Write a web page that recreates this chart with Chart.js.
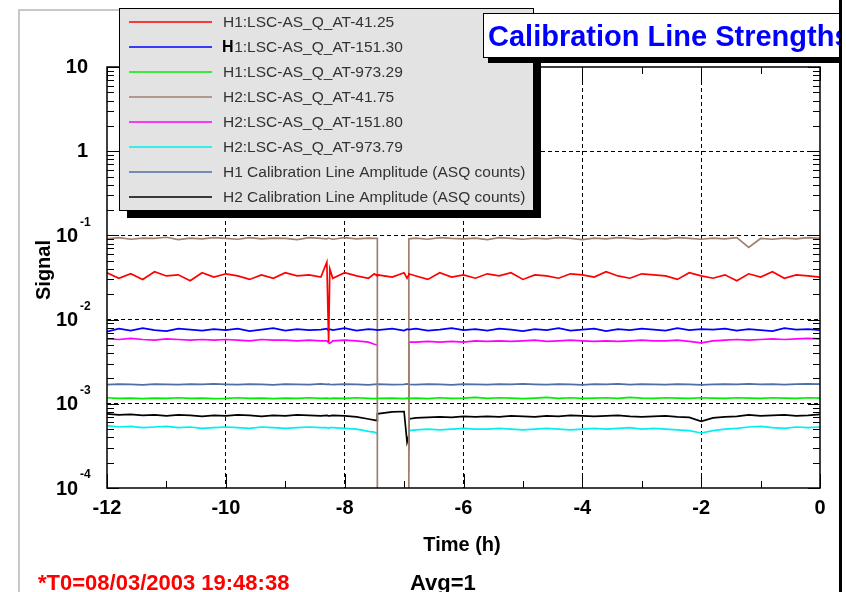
<!DOCTYPE html>
<html>
<head>
<meta charset="utf-8">
<script src="https://cdn.jsdelivr.net/npm/chart.js@4/dist/chart.umd.min.js"></script>
<style>
  html, body { margin: 0; padding: 0; background: #fff; }
  canvas { display: block; }
</style>
</head>
<body>
<canvas id="calChart" width="846" height="592"></canvas>
<script>
// time axis in hours before T0 (duplicated times give the vertical drops)
const times = [
  -12, -11.8, -11.6, -11.4, -11.2, -11, -10.8, -10.6, -10.4, -10.2,
  -10, -9.8, -9.6, -9.4, -9.2, -9, -8.8, -8.6, -8.4, -8.3,
  -8.27, -8.25, -8.2, -8, -7.8, -7.6, -7.5, -7.45, -7.45, -7.2,
  -7, -6.95, -6.92, -6.92, -6.8, -6.6, -6.4, -6.2, -6, -5.8,
  -5.6, -5.4, -5.2, -5, -4.8, -4.6, -4.4, -4.2, -4, -3.8,
  -3.6, -3.4, -3.2, -3, -2.8, -2.6, -2.4, -2.2, -2, -1.8,
  -1.6, -1.4, -1.2, -1, -0.8, -0.6, -0.4, -0.2, 0
];

const h1_41 = [
  0.036, 0.031, 0.035, 0.030, 0.037, 0.033, 0.034, 0.029, 0.036, 0.032,
  0.035, 0.033, 0.030, 0.034, 0.031, 0.036, 0.033, 0.034, 0.032, 0.048,
  0.0054, 0.040, 0.031, 0.036, 0.033, 0.031, 0.035, 0.033, 0.034, 0.032,
  0.036, 0.031, 0.034, 0.035, 0.033, 0.030, 0.036, 0.032, 0.034, 0.031,
  0.035, 0.033, 0.036, 0.030, 0.034, 0.033, 0.031, 0.035, 0.034, 0.032,
  0.037, 0.033, 0.031, 0.035, 0.034, 0.033, 0.030, 0.036, 0.033, 0.031,
  0.034, 0.029, 0.035, 0.032, 0.037, 0.031, 0.034, 0.033, 0.032
];

const h1_151 = [
  0.0072, 0.0078, 0.0074, 0.0079, 0.0075, 0.0073, 0.0078, 0.0076, 0.0074, 0.0077,
  0.0075, 0.0078, 0.0073, 0.0076, 0.0079, 0.0074, 0.0077, 0.0075, 0.0076, 0.0078,
  0.0074, 0.0077, 0.0075, 0.0079, 0.0074, 0.0077, 0.0076, 0.0075, 0.0075, 0.0078,
  0.0074, 0.0077, 0.0076, 0.0076, 0.0078, 0.0074, 0.0076, 0.0079, 0.0075, 0.0077,
  0.0074, 0.0078, 0.0076, 0.0073, 0.0077, 0.0075, 0.0079, 0.0074, 0.0076, 0.0078,
  0.0073, 0.0077, 0.0075, 0.0078, 0.0076, 0.0074, 0.0079, 0.0075, 0.0077, 0.0076,
  0.0078, 0.0074, 0.0077, 0.0075, 0.0073, 0.0079, 0.0076, 0.0077, 0.0075
];

const h1_973 = [
  0.00118, 0.00116, 0.00117, 0.00115, 0.00117, 0.00116, 0.00118, 0.00116, 0.00117, 0.00115,
  0.00116, 0.00118, 0.00116, 0.00117, 0.00115, 0.00117, 0.00116, 0.00118, 0.00116, 0.00117,
  0.00116, 0.00115, 0.00117, 0.00116, 0.00118, 0.00116, 0.00115, 0.00116, 0.00116, 0.00117,
  0.00115, 0.00117, 0.00116, 0.00116, 0.00117, 0.00115, 0.00118, 0.00116, 0.00117, 0.00119,
  0.00116, 0.00118, 0.00117, 0.00115, 0.00117, 0.00119, 0.00116, 0.00118, 0.00116, 0.00117,
  0.00118, 0.00116, 0.00119, 0.00117, 0.00116, 0.00118, 0.00117, 0.00116, 0.00118, 0.00117,
  0.00116, 0.00118, 0.00117, 0.00116, 0.00118, 0.00117, 0.00116, 0.00118, 0.00117
];

// H2 lines drop out between -7.45 h and -6.92 h
const h2_41 = [
  0.091, 0.094, 0.090, 0.093, 0.092, 0.095, 0.089, 0.093, 0.091, 0.094,
  0.092, 0.090, 0.094, 0.091, 0.093, 0.092, 0.089, 0.094, 0.092, 0.091,
  0.093, 0.092, 0.090, 0.094, 0.091, 0.093, 0.092, 0.092, 1e-6, 1e-6,
  1e-6, 1e-6, 1e-6, 0.091, 0.093, 0.090, 0.094, 0.092, 0.091, 0.093,
  0.089, 0.094, 0.092, 0.090, 0.093, 0.091, 0.094, 0.092, 0.089, 0.093,
  0.091, 0.094, 0.092, 0.090, 0.093, 0.091, 0.094, 0.092, 0.090, 0.093,
  0.091, 0.094, 0.072, 0.092, 0.090, 0.093, 0.091, 0.094, 0.092
];

const h2_151 = [
  0.0059, 0.0058, 0.0060, 0.0058, 0.0057, 0.0059, 0.0058, 0.0057, 0.0058, 0.0057,
  0.0058, 0.0057, 0.0056, 0.0058, 0.0057, 0.0057, 0.0056, 0.0057, 0.0056, 0.0056,
  0.0053, 0.0052, 0.0056, 0.0057, 0.0056, 0.0054, 0.0051, 0.0050, null, null,
  null, null, 0.00028, 0.0054, 0.0054, 0.0055, 0.0054, 0.0055, 0.0054, 0.0056,
  0.0055, 0.0056, 0.0055, 0.0056, 0.0057, 0.0055, 0.0056, 0.0057, 0.0056, 0.0055,
  0.0056, 0.0055, 0.0056, 0.0057, 0.0056, 0.0056, 0.0057, 0.0055, 0.0053, 0.0056,
  0.0057, 0.0058, 0.0057, 0.0058, 0.0059, 0.0058, 0.0059, 0.0060, 0.0059
];

const h2_973 = [
  0.00055, 0.00053, 0.00054, 0.00052, 0.00053, 0.00054, 0.00052, 0.00053, 0.00051, 0.00052,
  0.00053, 0.00052, 0.00051, 0.00053, 0.00052, 0.00051, 0.00052, 0.00053, 0.00052, 0.00052,
  0.00051, 0.00052, 0.00052, 0.00051, 0.00050, 0.00047, 0.00046, 0.00044, null, null,
  null, null, 0.000155, 0.00048, 0.00049, 0.00050, 0.00049, 0.00050, 0.00051, 0.00050,
  0.00050, 0.00051, 0.00050, 0.00049, 0.00050, 0.00051, 0.00050, 0.00049, 0.00050, 0.00051,
  0.00050, 0.00051, 0.00052, 0.00050, 0.00051, 0.00050, 0.00049, 0.00048, 0.00045, 0.00048,
  0.00050, 0.00051, 0.00053, 0.00054, 0.00052, 0.00051, 0.00053, 0.00052, 0.00053
];

const h1_amp = [
  0.00169, 0.00171, 0.00170, 0.00168, 0.00171, 0.00170, 0.00169, 0.00171, 0.00170, 0.00172,
  0.00170, 0.00169, 0.00171, 0.00170, 0.00168, 0.00171, 0.00170, 0.00169, 0.00172, 0.00170,
  0.00171, 0.00170, 0.00169, 0.00171, 0.00170, 0.00168, 0.00170, 0.00171, 0.00171, 0.00169,
  0.00170, 0.00172, 0.00170, 0.00170, 0.00169, 0.00171, 0.00170, 0.00168, 0.00171, 0.00170,
  0.00169, 0.00171, 0.00170, 0.00172, 0.00170, 0.00169, 0.00171, 0.00170, 0.00168, 0.00171,
  0.00170, 0.00172, 0.00169, 0.00171, 0.00170, 0.00169, 0.00171, 0.00170, 0.00168, 0.00170,
  0.00171, 0.00170, 0.00172, 0.00170, 0.00171, 0.00169, 0.00171, 0.00172, 0.00171
];

const h2_amp = [
  0.00076, 0.00074, 0.00075, 0.00073, 0.00074, 0.00072, 0.00074, 0.00073, 0.00071, 0.00073,
  0.00072, 0.00074, 0.00073, 0.00071, 0.00073, 0.00072, 0.00074, 0.00073, 0.00072, 0.00073,
  0.00072, 0.00072, 0.00073, 0.00072, 0.00070, 0.00066, 0.00064, 0.00063, 0.00076, 0.00080,
  0.00081, 0.00035, 0.00042, 0.00066, 0.00068, 0.00069, 0.00070, 0.00069, 0.00071, 0.00070,
  0.00071, 0.00070, 0.00072, 0.00071, 0.00070, 0.00072, 0.00071, 0.00073, 0.00072, 0.00071,
  0.00072, 0.00073, 0.00071, 0.00070, 0.00071, 0.00072, 0.00070, 0.00069, 0.00062, 0.00068,
  0.00070, 0.00071, 0.00074, 0.00072, 0.00073, 0.00074, 0.00072, 0.00073, 0.00075
];

const seriesLabels = [
  'H1:LSC-AS_Q_AT-41.25', 'H1:LSC-AS_Q_AT-151.30', 'H1:LSC-AS_Q_AT-973.29',
  'H2:LSC-AS_Q_AT-41.75', 'H2:LSC-AS_Q_AT-151.80', 'H2:LSC-AS_Q_AT-973.79',
  'H1 Calibration Line Amplitude (ASQ counts)', 'H2 Calibration Line Amplitude (ASQ counts)'
];
const seriesValues = [h1_41, h1_151, h1_973, h2_41, h2_151, h2_973, h1_amp, h2_amp];
const seriesColors = ['#ff0000', '#0000ff', '#00ee00', '#a0806e', '#ff00ff', '#00f0f0', '#4f6fa3', '#000000'];

const xTicks = [-12, -10, -8, -6, -4, -2, 0];
const yDecades = [10, 1, 0.1, 0.01, 0.001, 0.0001];

const FONT = '"Liberation Sans", Arial, sans-serif';

function isDecade(v) {
  const l = Math.log10(v);
  return Math.abs(l - Math.round(l)) < 1e-6;
}

const datasets = seriesValues.map((vals, i) => ({
  label: seriesLabels[i],
  data: times.map((t, k) => ({ x: t, y: vals[k] })),
  borderColor: seriesColors[i],
  backgroundColor: seriesColors[i],
  borderWidth: 1.7,
  pointRadius: 0,
  tension: 0,
  spanGaps: false
}));

// frame, inward ticks, texts, legend box, title box
const decor = {
  id: 'decor',
  afterDatasetsDraw(chart) {
    const { ctx, chartArea: a, scales: { x, y } } = chart;
    ctx.save();
    ctx.strokeStyle = '#000';
    ctx.lineWidth = 1.5;
    ctx.strokeRect(a.left, a.top, a.right - a.left, a.bottom - a.top);
    ctx.lineWidth = 1;
    ctx.beginPath();
    for (let n = -4; n <= 1; n++) {
      for (let m = 1; m <= 9; m++) {
        const v = m * Math.pow(10, n);
        if (v > 10.0001) break;
        const py = Math.round(y.getPixelForValue(v)) + 0.5;
        const len = m === 1 ? 12 : 7;
        ctx.moveTo(a.left, py); ctx.lineTo(a.left + len, py);
        ctx.moveTo(a.right, py); ctx.lineTo(a.right - len, py);
      }
    }
    for (let h = -12; h <= 0; h++) {
      const px = Math.round(x.getPixelForValue(h)) + 0.5;
      const len = h % 2 === 0 ? 14 : 7;
      ctx.moveTo(px, a.bottom); ctx.lineTo(px, a.bottom - len);
      ctx.moveTo(px, a.top); ctx.lineTo(px, a.top + len);
    }
    ctx.stroke();
    ctx.restore();
  },
  afterDraw(chart) {
    const { ctx, scales: { y } } = chart;
    ctx.save();

    // page edges
    ctx.fillStyle = '#c8c8c8';
    ctx.fillRect(18, 9, 2, 583);
    ctx.fillRect(18, 9, 102, 2);

    // y decade labels
    ctx.fillStyle = '#000';
    ctx.textBaseline = 'middle';
    yDecades.forEach(v => {
      const py = y.getPixelForValue(v);
      const e = Math.round(Math.log10(v));
      if (e >= 0) {
        ctx.font = 'bold 20px ' + FONT;
        ctx.textAlign = 'right';
        ctx.fillText(String(v), 88, py);
      } else {
        ctx.font = 'bold 20px ' + FONT;
        ctx.textAlign = 'left';
        ctx.fillText('10', 56, py + 1);
        ctx.font = 'bold 12px ' + FONT;
        ctx.fillText(String(e), 80, py - 13);
      }
    });

    // axis titles
    ctx.font = 'bold 20px ' + FONT;
    ctx.textAlign = 'center';
    ctx.fillText('Time (h)', 462, 545);
    ctx.save();
    ctx.translate(44, 270);
    ctx.rotate(-Math.PI / 2);
    ctx.fillText('Signal', 0, 0);
    ctx.restore();

    // footer
    ctx.font = 'bold 22px ' + FONT;
    ctx.textAlign = 'left';
    ctx.fillStyle = '#ff0000';
    ctx.fillText('*T0=08/03/2003 19:48:38', 38, 584);
    ctx.fillStyle = '#000';
    ctx.fillText('Avg=1', 410, 584);

    // legend box
    const lx = 119, ly = 8, lw = 414, lh = 202;
    ctx.fillStyle = '#000';
    ctx.fillRect(lx + 8, ly + 8, lw, lh);
    ctx.fillStyle = '#e3e3e3';
    ctx.fillRect(lx, ly, lw, lh);
    ctx.strokeStyle = '#000';
    ctx.lineWidth = 1;
    ctx.strokeRect(lx + 0.5, ly + 0.5, lw, lh);
    ctx.textAlign = 'left';
    chart.data.datasets.forEach((ds, i) => {
      const ry = 22 + i * 25;
      ctx.strokeStyle = ds.borderColor;
      ctx.lineWidth = 1.5;
      ctx.beginPath();
      ctx.moveTo(129, ry); ctx.lineTo(212, ry);
      ctx.stroke();
      ctx.fillStyle = '#333';
      ctx.font = '15.5px ' + FONT;
      if (i === 1) {
        const hw = ctx.measureText('H').width;
        ctx.fillText(ds.label.slice(1), 223 + hw, ry + 1);
        ctx.font = 'bold 16px ' + FONT;
        ctx.fillStyle = '#000';
        ctx.fillText('H', 222, ry + 1);
      } else {
        ctx.fillText(ds.label, 223, ry + 1);
      }
    });

    // title box
    ctx.fillStyle = '#000';
    ctx.fillRect(488, 18, 400, 45);
    ctx.fillStyle = '#fff';
    ctx.fillRect(483, 13, 400, 45);
    ctx.strokeStyle = '#000';
    ctx.lineWidth = 1;
    ctx.strokeRect(483.5, 13.5, 400, 44);
    ctx.fillStyle = '#0000ff';
    ctx.font = 'bold 29px ' + FONT;
    ctx.textBaseline = 'alphabetic';
    ctx.fillText('Calibration Line Strengths', 488, 46);

    // right window edge
    ctx.fillStyle = '#fff';
    ctx.fillRect(842, 0, 4, 592);
    ctx.fillStyle = '#000';
    ctx.fillRect(839, 0, 3, 592);
    ctx.restore();
  }
};

new Chart('calChart', {
  type: 'line',
  data: { datasets: datasets },
  options: {
    responsive: false,
    animation: false,
    layout: { padding: { top: 67, right: 26, left: 0, bottom: 0 } },
    plugins: { legend: { display: false }, tooltip: { enabled: false } },
    scales: {
      x: {
        type: 'linear',
        min: -12,
        max: 0,
        afterFit: s => { s.height = 104; },
        afterBuildTicks: s => { s.ticks = xTicks.map(v => ({ value: v })); },
        ticks: {
          autoSkip: false,
          maxRotation: 0,
          padding: 8,
          color: '#000',
          font: { family: FONT, size: 20, weight: 'bold' },
          callback: v => String(v)
        },
        grid: {
          color: '#000',
          lineWidth: c => (c.tick && c.tick.value > -12 && c.tick.value < 0) ? 1 : 0,
          drawTicks: false
        },
        border: { display: false, dash: [4, 3] }
      },
      y: {
        type: 'logarithmic',
        min: 0.0001,
        max: 10,
        afterFit: s => { s.width = 107; },
        ticks: { display: false },
        grid: {
          color: '#000',
          lineWidth: c => (c.tick && isDecade(c.tick.value) && c.tick.value > 0.0001 && c.tick.value < 10) ? 1 : 0,
          drawTicks: false
        },
        border: { display: false, dash: [4, 3] }
      }
    }
  },
  plugins: [decor]
});
</script>
</body>
</html>
